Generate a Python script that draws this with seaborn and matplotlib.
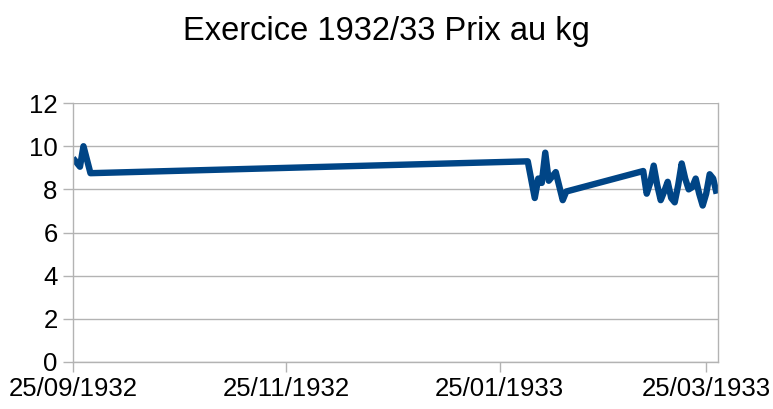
import pandas as pd
import matplotlib.pyplot as plt
import matplotlib.dates as mdates
import seaborn as sns

# dates (day/month/year) and price per kg
dates = ["25/09/1932", "27/09/1932", "28/09/1932", "30/09/1932",
         "02/02/1933", "04/02/1933", "05/02/1933", "06/02/1933", "07/02/1933",
         "08/02/1933", "10/02/1933", "12/02/1933", "13/02/1933",
         "07/03/1933", "08/03/1933", "09/03/1933", "10/03/1933", "11/03/1933",
         "12/03/1933", "13/03/1933", "14/03/1933", "15/03/1933", "16/03/1933",
         "17/03/1933", "18/03/1933", "19/03/1933", "20/03/1933", "21/03/1933",
         "22/03/1933", "23/03/1933", "24/03/1933", "25/03/1933", "26/03/1933",
         "27/03/1933", "28/03/1933"]
prix = [9.45, 9.05, 10.0, 8.75,
        9.3, 7.6, 8.5, 8.3, 9.7,
        8.4, 8.8, 7.5, 7.9,
        8.85, 7.8, 8.3, 9.1, 8.2,
        7.5, 7.9, 8.35, 7.6, 7.4,
        8.2, 9.2, 8.5, 8.0, 8.1,
        8.5, 7.8, 7.25, 7.8, 8.7,
        8.5, 7.8]
tick_dates = ["25/09/1932", "25/11/1932", "25/01/1933", "25/03/1933"]
y_ticks = [0, 2, 4, 6, 8, 10, 12]

df = pd.DataFrame({"date": pd.to_datetime(dates, format="%d/%m/%Y"), "prix": prix})

sns.set_style("white")
plt.rcParams['font.family'] = ['Liberation Sans', 'DejaVu Sans']

fig = plt.figure(figsize=(7.73, 4.09), dpi=100)
ax = fig.add_axes([0.0944, 0.115, 0.835, 0.633])

sns.lineplot(data=df, x="date", y="prix", color="#004586", linewidth=4.6,
             solid_joinstyle="round", solid_capstyle="butt", ax=ax)

grey = "#b3b3b3"
ax.set_ylim(0, 12)
ax.set_yticks(y_ticks)
ax.yaxis.grid(True, color=grey, linewidth=1)
ax.set_axisbelow(True)
ax.set_xlim(pd.Timestamp("1932-09-25"), pd.Timestamp("1933-03-28 12:00"))
ax.set_xticks(pd.to_datetime(tick_dates, format="%d/%m/%Y"))
ax.xaxis.set_major_formatter(mdates.DateFormatter("%d/%m/%Y"))

for side in ["left", "bottom", "right"]:
    ax.spines[side].set_color(grey)
    ax.spines[side].set_linewidth(1)
ax.spines["top"].set_visible(False)
ax.tick_params(axis="both", colors=grey, labelcolor="black", labelsize=18.5,
               length=7, width=1, direction="out", bottom=True, left=True)
ax.tick_params(axis="x", pad=4)
ax.tick_params(axis="y", pad=4)
ax.set_xlabel("")
ax.set_ylabel("")

fig.suptitle("Exercice 1932/33 Prix au kg", fontsize=23.5, y=0.96, color="black")

fig.savefig("out.png", dpi=100)
